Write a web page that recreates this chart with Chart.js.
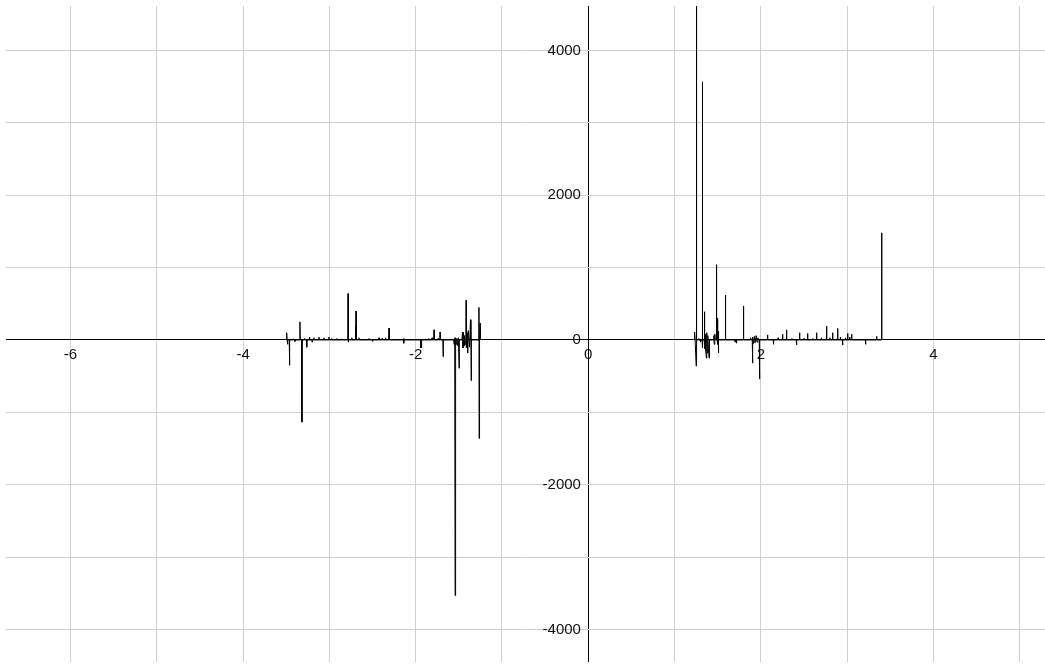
<!DOCTYPE html>
<html>
<head>
<meta charset="utf-8">
<script src="https://cdn.jsdelivr.net/npm/chart.js@4.4.0/dist/chart.umd.min.js"></script>
<style>
  body { margin: 0; background: #fff; }
</style>
</head>
<body>
<canvas id="myChart" width="1045" height="664"></canvas>
<script>
// left burst of samples (x, value), baseline is 0 between the spikes
var leftX = [-3.500, -3.495, -3.490, -3.485, -3.480, -3.465, -3.462, -3.459, -3.423, -3.420, -3.417, -3.403,
    -3.400, -3.397, -3.344, -3.341, -3.338, -3.321, -3.318, -3.315, -3.293, -3.290, -3.287, -3.265, -3.262,
    -3.259, -3.233, -3.230, -3.227, -3.203, -3.200, -3.197, -3.182, -3.179, -3.176, -3.124, -3.121, -3.118,
    -3.066, -3.063, -3.060, -3.008, -3.005, -3.002, -2.978, -2.975, -2.972, -2.918, -2.915, -2.912, -2.863,
    -2.860, -2.857, -2.787, -2.784, -2.781, -2.778, -2.743, -2.740, -2.737, -2.698, -2.695, -2.693, -2.691,
    -2.688, -2.660, -2.657, -2.654, -2.544, -2.541, -2.538, -2.503, -2.500, -2.497, -2.428, -2.425, -2.422,
    -2.393, -2.390, -2.387, -2.353, -2.350, -2.347, -2.312, -2.309, -2.306, -2.143, -2.140, -2.137, -2.134,
    -1.943, -1.940, -1.937, -1.933, -1.930, -1.853, -1.850, -1.847, -1.813, -1.810, -1.807, -1.790, -1.787,
    -1.784, -1.743, -1.740, -1.737, -1.720, -1.717, -1.714, -1.685, -1.682, -1.679,
    -1.560, -1.555, -1.550, -1.546, -1.543, -1.540, -1.535, -1.528, -1.522, -1.515, -1.505, -1.497, -1.494,
    -1.465, -1.458, -1.452, -1.446, -1.440, -1.434, -1.425, -1.418, -1.415, -1.412, -1.405, -1.398, -1.390,
    -1.375, -1.365, -1.360, -1.357, -1.354, -1.270, -1.267, -1.265, -1.260, -1.253, -1.250];
var leftY = [0, 100, 0, -60, 0, 0, -350, 0, 0, 15, 0, 0,
    -20, 0, 0, 250, 0, 0, -1135, 0, 0, 20, 0, 0, -100,
    0, 0, 40, 0, 0, -30, 0, 0, 30, 0, 0, 40, 0,
    0, 30, 0, 0, 40, 0, 0, 20, 0, 0, 20, 0, 0,
    15, 0, 0, 640, -30, 0, 0, 30, 0, 0, 200, 0, 400,
    0, 0, 30, 0, 0, 20, 0, 0, -20, 0, 0, 30, 0,
    0, 20, 0, 0, 30, 0, 0, 165, 0, 0, 20, -45, 0,
    0, -110, -60, -110, 0, 0, 20, 0, 0, 30, 0, 0, 140,
    0, 0, 20, 0, 0, 110, 0, 0, -230, 0,
    0, -60, 30, -40, -3530, -40, 30, -60, 20, -80, 30, -390, 0,
    0, 110, -110, 100, -80, 60, -60, 80, 550, -110, 100, -180, 130,
    -100, 280, 0, -560, 0, 0, 450, -1360, 0, 230, 0];

// right burst of samples (x, value)
var rightX = [1.225, 1.232, 1.238, 1.247, 1.250, 1.253, 1.256, 1.277, 1.280, 1.283, 1.297, 1.300,
    1.303, 1.318, 1.321, 1.323, 1.326, 1.343, 1.346, 1.349, 1.353, 1.358, 1.363, 1.369, 1.373,
    1.379, 1.385, 1.392, 1.400, 1.405, 1.452, 1.455, 1.459, 1.466, 1.472, 1.482, 1.485, 1.488,
    1.494, 1.497, 1.501, 1.505, 1.508, 1.511, 1.586, 1.589, 1.592, 1.697, 1.700, 1.703, 1.714,
    1.717, 1.720, 1.795, 1.798, 1.801, 1.877, 1.880, 1.883, 1.900, 1.903, 1.906, 1.915, 1.924,
    1.933, 1.945, 1.955, 1.965, 1.975, 1.981, 1.984, 1.987, 2.074, 2.077, 2.080, 2.143, 2.146,
    2.149, 2.197, 2.200, 2.203, 2.248, 2.251, 2.254, 2.294, 2.297, 2.300, 2.357, 2.360, 2.363,
    2.410, 2.413, 2.416, 2.445, 2.448, 2.451, 2.497, 2.500, 2.503, 2.538, 2.541, 2.544, 2.597,
    2.600, 2.603, 2.642, 2.645, 2.648, 2.697, 2.700, 2.703, 2.758, 2.761, 2.764, 2.797, 2.800,
    2.803, 2.828, 2.831, 2.834, 2.886, 2.889, 2.892, 2.917, 2.920, 2.923, 2.944, 2.947, 2.950,
    2.977, 2.980, 2.983, 3.002, 3.005, 3.008, 3.027, 3.030, 3.033, 3.048, 3.051, 3.054, 3.210,
    3.213, 3.216, 3.338, 3.341, 3.344, 3.396, 3.399, 3.402];
var rightY = [0, 110, 0, 0, -360, 6000, 0, 0, 20, 0, 0, -30,
    0, 0, -110, 3565, 0, 0, 390, -120, 0, 80, -150, -250, 100,
    -180, 60, -120, -250, 0, 0, 60, -60, 80, 0, 0, 1040, 0,
    0, 300, -60, 120, -180, 0, 0, 620, 0, 0, -30, 0, 0,
    -45, 0, 0, 470, 0, 0, 30, 0, 0, -320, 40, -50, 50,
    -40, 60, -30, 30, 0, 0, -540, 0, 0, 70, 0, 0, -60,
    0, 0, 30, 0, 0, 80, 0, 0, 140, 0, 0, 20, 0,
    0, -70, 0, 0, 100, 0, 0, 20, 0, 0, 90, 0, 0,
    20, 0, 0, 100, 0, 0, 30, 0, 0, 190, 0, 0, 30,
    0, 0, 100, 0, 0, 160, 0, 0, 40, 0, 0, -70, 0,
    0, 30, 0, 0, 90, 0, 0, 40, 0, 0, 80, 0, 0,
    -60, 0, 0, 50, 0, 0, 1480, 0];

// axis ranges and ticks
var xRange = [-6.747, 5.292];
var yRange = [-4448, 4613];
var xTicks = [-6, -5, -4, -3, -2, -1, 0, 1, 2, 3, 4, 5];
var yTicks = [-4000, -3000, -2000, -1000, 0, 1000, 2000, 3000, 4000];
var xLabelEvery = 2;
var yLabelEvery = 2000;

function toPoints(xs, ys) {
    return xs.map(function (x, i) { return { x: x, y: ys[i] }; });
}

function noPadding(s) {
    s.paddingTop = 0;
    s.paddingBottom = 0;
    s.paddingLeft = 0;
    s.paddingRight = 0;
}

var ctx = document.getElementById("myChart");

var myChart = new Chart(ctx, {
    type: 'line',
    data: {
        datasets: [
            { data: toPoints(leftX, leftY), borderColor: '#000', borderWidth: 1, pointRadius: 0, tension: 0 },
            { data: toPoints(rightX, rightY), borderColor: '#000', borderWidth: 1, pointRadius: 0, tension: 0 }
        ]
    },
    options: {
        responsive: false,
        animation: false,
        layout: { padding: { left: 6, top: 6, right: 0, bottom: 2 } },
        plugins: { legend: { display: false }, tooltip: { enabled: false } },
        scales: {
            x: {
                type: 'linear',
                position: { y: 0 },
                min: xRange[0],
                max: xRange[1],
                afterBuildTicks: function (s) { s.ticks = xTicks.map(function (v) { return { value: v }; }); },
                afterFit: function (s) { s.height = 0; noPadding(s); },
                grid: {
                    // the vertical line at x = 0 is the y axis itself
                    color: function (c) { return c.tick && c.tick.value === 0 ? '#000' : '#cfcfcf'; },
                    lineWidth: 1,
                    tickColor: 'rgba(0,0,0,0)',
                    tickLength: 3
                },
                border: { color: '#000', width: 1 },
                ticks: {
                    autoSkip: false,
                    maxRotation: 0,
                    color: '#111',
                    font: { family: 'Liberation Sans', size: 15 },
                    callback: function (v) { return v % xLabelEvery === 0 ? v : ''; }
                }
            },
            y: {
                type: 'linear',
                // labels sit a few pixels left of the y axis line
                position: { x: -0.085 },
                min: yRange[0],
                max: yRange[1],
                afterBuildTicks: function (s) { s.ticks = yTicks.map(function (v) { return { value: v }; }); },
                afterFit: function (s) { s.width = 0; noPadding(s); },
                grid: { color: '#cfcfcf', lineWidth: 1, tickColor: 'rgba(0,0,0,0)' },
                border: { display: false },
                ticks: {
                    autoSkip: false,
                    color: '#111',
                    font: { family: 'Liberation Sans', size: 15 },
                    callback: function (v) { return v % yLabelEvery === 0 ? v : ''; }
                }
            }
        }
    }
});
</script>
</body>
</html>
